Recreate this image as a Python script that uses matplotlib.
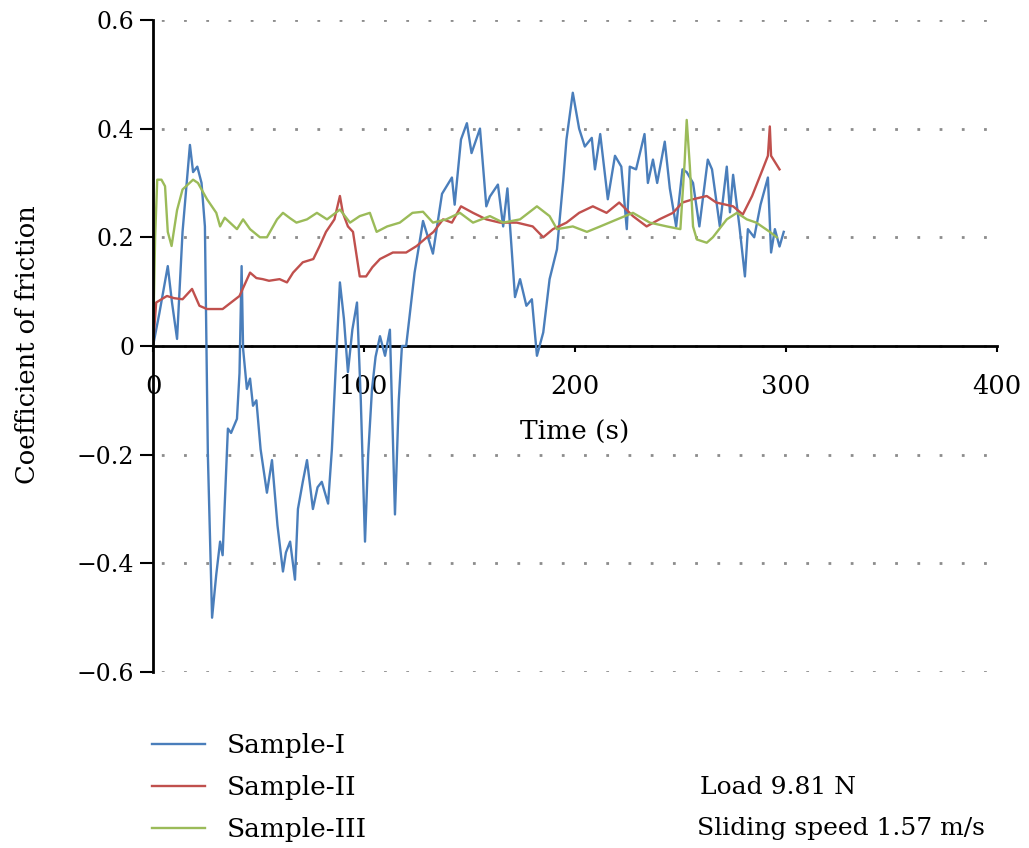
import matplotlib.pyplot as plt

plt.rcParams['font.family'] = ['DejaVu Serif']

# Sample-I (blue)
t1 = [0, 3, 7, 9, 11.4, 14, 17.5, 19, 21, 23, 24.6, 26, 28, 30, 31.8, 33, 35.5, 37, 39.8, 41,
      42, 42.7, 44.5, 46, 47.4, 49, 51, 54, 56.4, 59, 61.6, 63, 65, 67.3, 68.7, 71, 73, 75.8, 78,
      80, 83, 84.8, 86.5, 88.6, 90.5, 92.4, 94.5, 96.7, 98.5, 100.5, 102, 103.8, 105.5, 107.6,
      110, 112.3, 114.7, 116.5, 118, 120, 124, 128, 132.7, 137, 141.7, 143, 146, 148.8, 151, 155,
      158, 159.7, 163.5, 166, 168, 171.6, 174, 177, 179.6, 182, 185, 188, 191.5, 194.5, 196, 199,
      202, 204.7, 208, 209.5, 212, 215.6, 219, 222, 224.6, 226, 229, 233, 234.6, 237, 239, 242.6,
      245, 248, 251, 253, 256, 259, 263, 265, 268.7, 272, 273.5, 275, 278, 280.6, 282, 285, 288,
      291.5, 293, 294.8, 297, 299]
mu1 = [0, 0.06, 0.147, 0.08, 0.013, 0.21, 0.37, 0.32, 0.33, 0.30, 0.22, -0.2, -0.50, -0.42, -0.36,
       -0.385, -0.152, -0.16, -0.134, -0.05, 0.147, -0.005, -0.079, -0.06, -0.11, -0.10, -0.19,
       -0.27, -0.21, -0.33, -0.415, -0.38, -0.36, -0.43, -0.30, -0.25, -0.21, -0.30, -0.26, -0.25,
       -0.29, -0.19, -0.05, 0.117, 0.05, -0.048, 0.03, 0.08, -0.1, -0.36, -0.2, -0.08, -0.02, 0.018,
       -0.018, 0.03, -0.31, -0.1, 0.0, 0.0, 0.135, 0.23, 0.17, 0.28, 0.31, 0.26, 0.38, 0.41, 0.355,
       0.40, 0.257, 0.275, 0.297, 0.22, 0.29, 0.09, 0.123, 0.074, 0.086, -0.018, 0.025, 0.123,
       0.178, 0.306, 0.38, 0.466, 0.40, 0.367, 0.383, 0.325, 0.39, 0.27, 0.35, 0.33, 0.215, 0.33,
       0.325, 0.39, 0.30, 0.343, 0.30, 0.376, 0.29, 0.22, 0.325, 0.32, 0.30, 0.22, 0.343, 0.325,
       0.22, 0.33, 0.246, 0.315, 0.22, 0.128, 0.215, 0.20, 0.26, 0.31, 0.172, 0.215, 0.183, 0.21]

# Sample-II (red)
t2 = [0, 1.5, 6.6, 10, 14, 18.5, 22, 25.6, 33, 37, 41, 46, 49, 52, 55, 60, 63.5, 66.4, 71, 76, 79,
      82, 86, 88.6, 90, 92.4, 94.8, 98, 101, 104, 107.6, 113.7, 120, 125, 129.8, 133, 137.5, 141.7,
      146, 151.7, 158, 164.5, 172.5, 180, 185, 189.6, 196, 202, 208.5, 215, 221, 227.5, 234, 240,
      246.5, 251, 256, 262.5, 267, 275, 279.6, 284, 289, 291.5, 292.4, 293, 297]
mu2 = [0, 0.08, 0.092, 0.088, 0.086, 0.105, 0.074, 0.068, 0.068, 0.08, 0.092, 0.135, 0.125, 0.123,
       0.12, 0.123, 0.117, 0.135, 0.154, 0.16, 0.184, 0.21, 0.233, 0.276, 0.245, 0.22, 0.21, 0.128,
       0.128, 0.145, 0.16, 0.172, 0.172, 0.184, 0.20, 0.21, 0.233, 0.227, 0.257, 0.245, 0.233,
       0.227, 0.227, 0.22, 0.20, 0.215, 0.227, 0.245, 0.257, 0.245, 0.264, 0.239, 0.22, 0.233,
       0.245, 0.264, 0.27, 0.276, 0.264, 0.257, 0.242, 0.276, 0.325, 0.35, 0.404, 0.35, 0.325]

# Sample-III (green)
t3 = [0, 1, 2, 4, 5.7, 7, 8.8, 11.4, 14, 19, 21.3, 25.6, 30, 31.8, 34, 39.8, 42.7, 46, 50.7, 54,
      58.8, 61.6, 65, 68, 73, 77.7, 82.5, 88.6, 93.4, 98, 102.8, 106, 111, 117, 123, 128, 132.7,
      139, 145.5, 151.7, 159.7, 166, 174, 182, 188, 191.5, 199, 205.7, 212, 220, 227.5, 235.5,
      243.6, 250, 252, 253, 254.5, 256, 257.8, 262.5, 265.4, 272, 276.8, 281.5, 286, 292.4, 295.7]
mu3 = [0, 0.2, 0.306, 0.306, 0.294, 0.21, 0.184, 0.25, 0.288, 0.306, 0.30, 0.27, 0.245, 0.22,
       0.236, 0.215, 0.233, 0.215, 0.20, 0.20, 0.233, 0.245, 0.235, 0.227, 0.233, 0.245, 0.233,
       0.251, 0.227, 0.239, 0.245, 0.21, 0.22, 0.227, 0.245, 0.247, 0.227, 0.233, 0.245, 0.227,
       0.239, 0.227, 0.233, 0.257, 0.239, 0.215, 0.22, 0.21, 0.22, 0.233, 0.245, 0.227, 0.22,
       0.215, 0.337, 0.416, 0.33, 0.22, 0.196, 0.19, 0.20, 0.233, 0.245, 0.233, 0.227, 0.21, 0.20]

fig = plt.figure(figsize=(10.29, 8.48), dpi=100)
ax = fig.add_axes([0.1487, 0.2075, 0.820, 0.769])

l1, = ax.plot(t1, mu1, color='#4a7ebb', lw=1.7, label='Sample-I')
l2, = ax.plot(t2, mu2, color='#c0504d', lw=1.7, label='Sample-II')
l3, = ax.plot(t3, mu3, color='#9bbb59', lw=1.7, label='Sample-III')

ax.set_xlim(0, 400)
ax.set_ylim(-0.6, 0.6)
ax.set_xticks([0, 100, 200, 300, 400])
ax.set_yticks([-0.6, -0.4, -0.2, 0, 0.2, 0.4, 0.6])
ax.set_yticklabels(['\u22120.6', '\u22120.4', '\u22120.2', '0', '0.2', '0.4', '0.6'])

ax.spines['top'].set_visible(False)
ax.spines['right'].set_visible(False)
ax.spines['bottom'].set_position('zero')
ax.spines['left'].set_linewidth(2)
ax.spines['bottom'].set_linewidth(2)
ax.spines['bottom'].set_zorder(1)

ax.tick_params(axis='y', direction='out', length=9.5, width=1.5, pad=4, labelsize=17)
ax.tick_params(axis='x', direction='out', length=4, width=1.5, pad=16, labelsize=18.5)

ax.grid(axis='y', color='#8c8c8c', linestyle=(5, (1, 7)), linewidth=2)
ax.set_axisbelow(True)

ax.set_xlabel('Time (s)', fontsize=19)
ax.xaxis.set_label_coords(0.5, 0.3865)
fig.text(28 / 1029, 1 - 345 / 848, 'Coefficient of friction', rotation=90,
         ha='center', va='center', fontsize=18.5)

fig.legend(handles=[l1, l2, l3], loc='upper left', bbox_to_anchor=(152 / 1029, 1 - 733 / 848),
           frameon=False, fontsize=19, handlelength=2.0, handletextpad=0.85,
           labelspacing=0.65, borderpad=0, borderaxespad=0)

fig.text(700 / 1029, 1 - 787 / 848, 'Load 9.81 N', ha='left', va='center', fontsize=18)
fig.text(697 / 1029, 1 - 829 / 848, 'Sliding speed 1.57 m/s', ha='left', va='center', fontsize=18)

fig.savefig('out.png', dpi=100)
